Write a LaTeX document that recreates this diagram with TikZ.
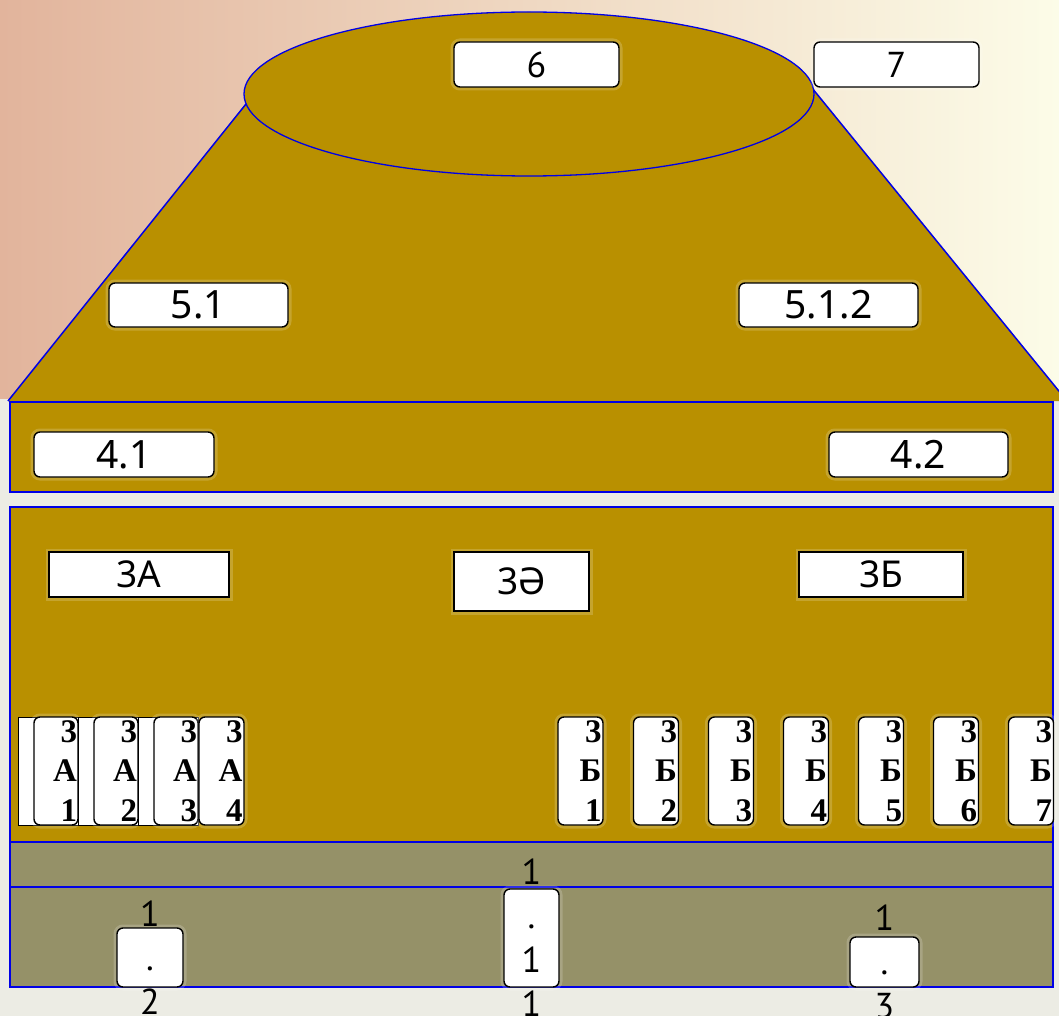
\documentclass[tikz,border=0pt]{standalone}
\usepackage{fontspec}
\setmainfont{Noto Sans}
\newfontfamily\narrowfont{PT Sans}
\newfontfamily\stackfont{Liberation Serif}

\definecolor{gold}{RGB}{185,144,0}
\definecolor{olivegrey}{RGB}{149,145,104}
\definecolor{edgeblue}{RGB}{0,0,230}
\definecolor{bgleft}{RGB}{226,180,156}
\definecolor{bgmid}{RGB}{246,214,166}
\definecolor{bgright}{RGB}{252,252,232}
\definecolor{bglow}{RGB}{236,236,228}

\begin{document}
\begin{tikzpicture}[x=1pt, y=-1pt,
    halo/.style={preaction={draw=white, draw opacity=.18, line width=7pt}},
    tagbox/.style={halo, draw=black, fill=white, line width=1.4pt, rounded corners=6pt, inner sep=0pt},
    flatbox/.style={halo, draw=black, fill=white, line width=1.6pt, inner sep=0pt},
    backbox/.style={draw=black, fill=white, line width=0.9pt, inner sep=0pt},
    stackbox/.style={tagbox, minimum height=108, text width=42pt, inner xsep=1pt, align=right,
      font=\stackfont\bfseries\fontsize{33}{39.5}\selectfont},
    numtext/.style={font=\fontsize{39}{44}\selectfont},
    tagtext/.style={font=\fontsize{37}{44}\selectfont},
    narrowtext/.style={font=\narrowfont\fontsize{36}{44}\selectfont, inner sep=0pt, align=center}]
      \useasboundingbox (0,0) rectangle (1059,1016);
      \clip (0,0) rectangle (1059,1016);
      % background
      \fill[bglow] (0,0) rectangle (1059,1016);
      \shade[left color=bgleft, middle color=bgmid, right color=bgright] (0,0) rectangle (1059,398);
      % cone with ellipse on top
      \fill[gold] (8,401) -- (246,104) -- (529,90) -- (812,88) -- (1067,401) -- cycle;
      \draw[edgeblue, line width=1.5pt] (8,401) -- (246,104);
      \draw[edgeblue, line width=1.5pt] (812,88) -- (1067,401);
      \filldraw[fill=gold, draw=edgeblue, line width=1.3pt] (529,94) ellipse [x radius=285pt, y radius=82pt];
      % layers
      \filldraw[fill=gold, draw=edgeblue, line width=1.5pt] (10,402) rectangle (1053,492);
      \filldraw[fill=gold, draw=edgeblue, line width=1.5pt] (10,507) rectangle (1053,842);
      \filldraw[fill=olivegrey, draw=edgeblue, line width=1.5pt] (10,842) rectangle (1053,887);
      \filldraw[fill=olivegrey, draw=edgeblue, line width=1.5pt] (10,887) rectangle (1053,987);
      % top labels
      \node[tagbox, narrowtext, minimum width=165, minimum height=45] (six) at (536.5,64.5) {6};
      \node[tagbox, narrowtext, minimum width=165, minimum height=45] (seven) at (896.5,64.5) {7};
      \node[tagbox, numtext, minimum width=179, minimum height=44] (fiveone) at (198.5,305) {5.1};
      \node[tagbox, numtext, minimum width=179, minimum height=44] (fiveonetwo) at (828.5,305) {5.1.2};
      \node[tagbox, numtext, minimum width=180, minimum height=45] (fourone) at (124,454.5) {4.1};
      \node[tagbox, numtext, minimum width=179, minimum height=45] (fourtwo) at (918.5,454.5) {4.2};
      % group 3
      \node[flatbox, tagtext, minimum width=180, minimum height=45] (threea) at (139,574.5) {3А};
      \node[flatbox, tagtext, minimum width=135, minimum height=59] (threeschwa) at (521.5,581.5) {3Ә};
      \node[flatbox, tagtext, minimum width=164, minimum height=45] (threeb) at (881,574.5) {3Б};
      \node[backbox, minimum width=60, minimum height=108] (aoneback) at (48,771) {};
      \node[stackbox, minimum width=44] (aone) at (56,771) {3\\А\\1};
      \node[backbox, minimum width=60, minimum height=108] (atwoback) at (108,771) {};
      \node[stackbox, minimum width=44] (atwo) at (116,771) {3\\А\\2};
      \node[backbox, minimum width=60, minimum height=108] (athreeback) at (168,771) {};
      \node[stackbox, minimum width=44] (athree) at (176,771) {3\\А\\3};
      \node[stackbox, minimum width=45] (afour) at (221.5,771) {3\\А\\4};
      \node[stackbox, minimum width=45] (bone) at (580.5,771) {3\\Б\\1};
      \node[stackbox, minimum width=45] (btwo) at (656,771) {3\\Б\\2};
      \node[stackbox, minimum width=45] (bthree) at (731,771) {3\\Б\\3};
      \node[stackbox, minimum width=45] (bfour) at (806,771) {3\\Б\\4};
      \node[stackbox, minimum width=45] (bfive) at (881,771) {3\\Б\\5};
      \node[stackbox, minimum width=45] (bsix) at (956,771) {3\\Б\\6};
      \node[stackbox, minimum width=45] (bseven) at (1031,771) {3\\Б\\7};
      % bottom labels
      \node[tagbox, minimum width=66, minimum height=59] (onetwo) at (150,957.5) {};
      \node[narrowtext] (onetwotext) at (onetwo.center) {1\\.\\2};
      \node[tagbox, minimum width=55, minimum height=98] (oneone) at (531.5,938) {};
      \node[narrowtext] (oneonetext) at (oneone.center) {1\\.\\1\\1};
      \node[tagbox, minimum width=69, minimum height=50] (onethree) at (884.5,962) {};
      \node[narrowtext] (onethreetext) at (onethree.center) {1\\.\\3};
\end{tikzpicture}
\end{document}
